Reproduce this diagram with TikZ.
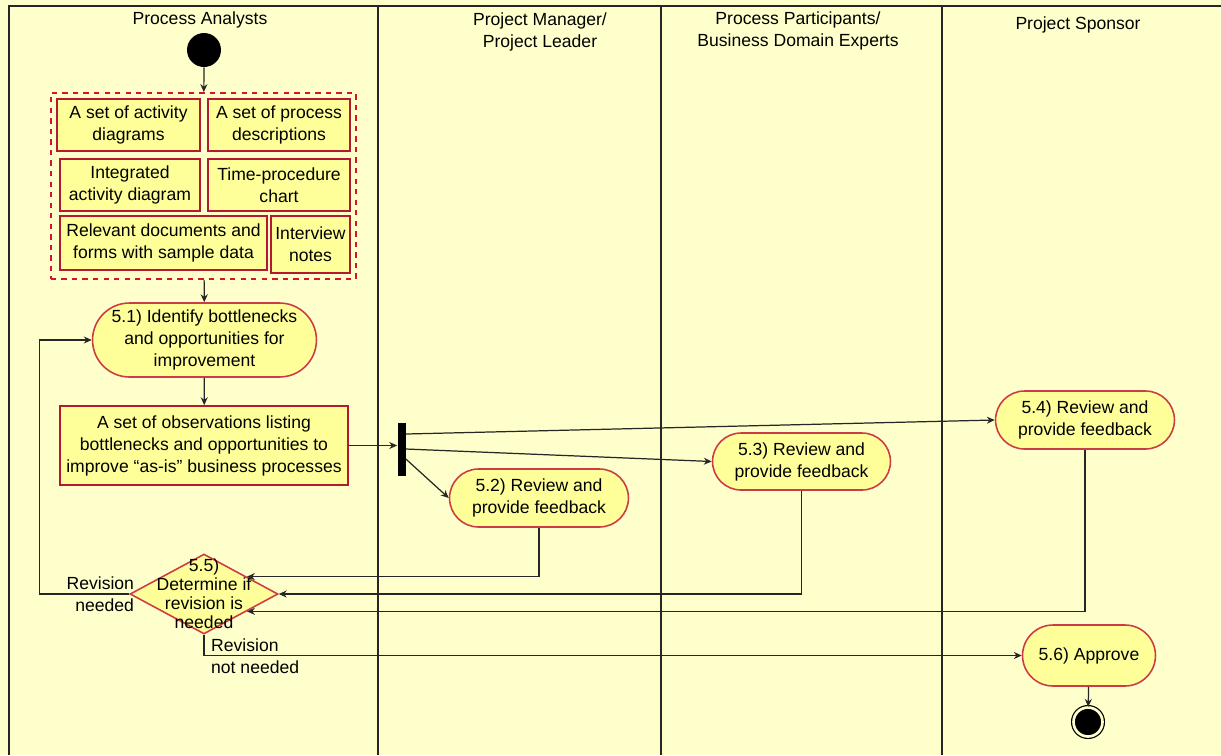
\documentclass[tikz,border=0pt]{standalone}
\usepackage{fontspec}
\setmainfont{Liberation Sans}
\usepackage{tikz}
\usetikzlibrary{shapes.geometric, shapes.misc, positioning, arrows.meta, fit}
\definecolor{LaneBg}{RGB}{255,255,204}
\definecolor{NodeFill}{RGB}{255,255,153}
\definecolor{ArtRed}{RGB}{180,25,50}
\definecolor{ActRed}{RGB}{205,60,70}
\definecolor{DashRed}{RGB}{210,20,50}

\begin{document}
\begin{tikzpicture}[x=0.02cm, y=-0.02cm,
          font=\fontsize{10}{12.5}\selectfont,
          lane/.style={line width=1.1pt, black!85},
          art/.style={rectangle, draw=ArtRed, fill=NodeFill, line width=1pt,
                      inner sep=1pt, align=center},
          act/.style={rounded rectangle, draw=ActRed, fill=NodeFill, line width=0.9pt,
                      inner sep=2pt, align=center},
          outbox/.style={rectangle, draw=DashRed, dashed, line width=0.9pt, inner sep=3pt},
          initial/.style={circle, fill=black, minimum size=0.68cm, inner sep=0pt},
          final/.style={circle, fill=black, draw=black, double=LaneBg, double distance=1.5pt,
                        line width=0.7pt, minimum size=0.58cm, inner sep=0pt},
          arr/.style={-{Stealth[length=4.5pt,width=4pt]}, line width=0.7pt, black!85}
        ]
        \useasboundingbox (0,0) rectangle (1221,755);
        \fill[LaneBg] (0,0) rectangle (1221,755);

        % swimlanes
        \draw[lane] (1221,6) -- (9,6) -- (9,755);
        \foreach \lx in {378, 661, 942}
          \draw[lane] (\lx,6) -- (\lx,755);
        \node (laneA) at (200,20) {Process Analysts};
        \node[align=center] (laneM) at (540,32) {Project Manager/\\Project Leader};
        \node[align=center] (laneP) at (798,31) {Process Participants/\\Business Domain Experts};
        \node (laneS) at (1078,25) {Project Sponsor};

        % Process Analysts
        \node[initial] (start) at (204,50) {};
        \node[art, minimum width=2.86cm, minimum height=1.04cm] (art1) at (128.5,125)
              {A set of activity\\diagrams};
        \node[art, minimum width=2.84cm, minimum height=1.04cm] (art2) at (279,125)
              {A set of process\\descriptions};
        \node[art, minimum width=2.8cm, minimum height=1.04cm] (art3) at (130,185)
              {Integrated\\activity diagram};
        \node[art, minimum width=2.84cm, minimum height=1.04cm] (art4) at (279,185)
              {Time-procedure\\chart};
        \node[art, minimum width=4.14cm, minimum height=1.08cm] (art5) at (163.5,243)
              {Relevant documents and\\forms with sample data};
        \node[art, minimum width=1.58cm, minimum height=1.14cm, inner sep=0pt] (art6) at (310.5,244.5)
              {Interview\\notes};
        \node[outbox, fit=(art1)(art2)(art3)(art4)(art5)(art6)] (outputs) {};
        \node[act, minimum width=4.62cm, minimum height=1.48cm] (act51) at (204.5,340)
              {5.1) Identify bottlenecks\\and opportunities for\\improvement};
        \node[art, minimum width=5.76cm, minimum height=1.58cm] (obs) at (204,445.5)
              {A set of observations listing\\bottlenecks and opportunities to\\improve ``as-is'' business processes};
        \node[diamond, draw=ActRed, fill=NodeFill, line width=0.9pt, inner sep=0pt,
              minimum width=2.96cm, minimum height=1.6cm] (dec55) at (204,594) {};
        \node[align=center, font=\fontsize{10}{10.8}\selectfont] (dec55txt) at (204,594)
              {5.5)\\Determine if\\revision is\\needed};
        \node[align=right, left=-0.22cm of dec55.west] (lblneed) {Revision\\needed};
        \node[align=left, anchor=west] (lblnot) at (205,656) {Revision\\not needed};

        % Project Manager / Participants / Sponsor
        \node[rectangle, fill=black, minimum width=0.16cm, minimum height=1.06cm,
              inner sep=0pt] (fork) at (401.5,449) {};
        \node[act, minimum width=3.72cm, minimum height=1.16cm] (act52) at (539,498)
              {5.2) Review and\\provide feedback};
        \node[act, minimum width=3.7cm, minimum height=1.14cm] (act53) at (801.5,461.5)
              {5.3) Review and\\provide feedback};
        \node[act, minimum width=3.72cm, minimum height=1.16cm] (act54) at (1085,420)
              {5.4) Review and\\provide feedback};
        \node[act, minimum width=2.8cm, minimum height=1.22cm] (act56) at (1089,655.5)
              {5.6) Approve};
        \node[final] (end) at (1088,722) {};

        % flows
        \draw[arr] (start) -- (outputs);
        \draw[arr] (outputs) -- (act51);
        \draw[arr] (act51) -- (obs);
        \draw[arr] (obs.east) -- (obs.east -| fork.west);
        \draw[arr] ([yshift=-0.2cm]fork.east) -- (act52.west);
        \draw[arr] (fork.east) -- (act53.west);
        \draw[arr] ([yshift=0.3cm]fork.east) -- (act54.west);
        \draw[arr] (act52.south) |- (dec55.22);
        \draw[arr] (act53.south) |- (dec55.east);
        \draw[arr] (act54.south) |- (dec55.-22);
        \draw[arr] (dec55.west) -- ++(-1.8cm,0) |- (act51.west);
        \draw[arr] (dec55.south) |- (act56.west);
        \draw[arr] (act56) -- (end);
      \end{tikzpicture}
\end{document}
